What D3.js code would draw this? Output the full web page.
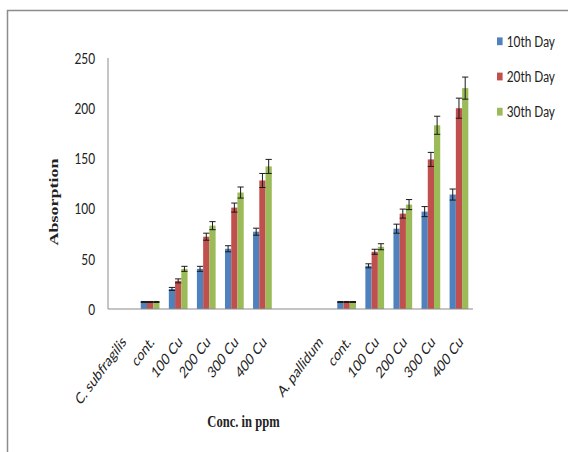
<!DOCTYPE html>
<html>
<head>
<meta charset="utf-8">
<script src="https://cdn.jsdelivr.net/npm/d3@7"></script>
<style>
  html, body { margin: 0; padding: 0; background: #fff; }
  svg { display: block; }
</style>
</head>
<body>
<svg id="chart" width="568" height="452"></svg>
<script>
// Category axis: two species, each followed by a control and four copper doses.
const categories = ["C. subfragilis", "cont.", "100 Cu", "200 Cu", "300 Cu", "400 Cu", "",
                    "A. pallidum", "cont.", "100 Cu", "200 Cu", "300 Cu", "400 Cu"];
const seriesNames = ["10th Day", "20th Day", "30th Day"];

// Mean absorption per category (null where the slot only carries a species label).
const day10 = [null, 7, 20, 40, 60, 77, null, null, 7, 43, 80, 97, 114];
const day20 = [null, 7, 28, 72, 101, 128, null, null, 7, 57, 95, 149, 200];
const day30 = [null, 7, 40, 83, 116, 142, null, null, 7, 62, 104, 183, 220];

// Standard errors for the error bars.
const err10 = [null, 0.5, 1.5, 2.5, 3, 3.5, null, null, 0.5, 2, 4.5, 5, 5.5];
const err20 = [null, 0.5, 2, 3.5, 4.5, 7, null, null, 0.5, 2.5, 4.5, 7, 10];
const err30 = [null, 0.5, 2.5, 4, 5.5, 7, null, null, 0.5, 3, 5, 9, 11];

const yTicks = [0, 50, 100, 150, 200, 250];
const colors = ["#4F81BD", "#C0504D", "#9BBB59"];

const values = [day10, day20, day30];
const errors = [err10, err20, err30];

const svg = d3.select("#chart");
const SX = 0.74;                 // horizontal compression applied to all text
const sans = "Lato, 'Liberation Sans', sans-serif";
const serif = "'Liberation Serif', 'Times New Roman', serif";

// Outer chart frame
svg.append("path")
  .attr("d", "M7.5,452 V10.5 H568")
  .attr("fill", "none")
  .attr("stroke", "#8c8c8c")
  .attr("stroke-width", 1.5);

const plot = { left: 108, right: 473, top: 58, bottom: 309 };

const x = d3.scaleBand()
  .domain(d3.range(categories.length))
  .range([plot.left, plot.right])
  .paddingInner(0).paddingOuter(0);

const y = d3.scaleLinear()
  .domain([0, 250])
  .range([plot.bottom, plot.top]);

// Bars take 3 of every 4.5 bar widths in a band (gap = 150% of a bar).
const barW = x.bandwidth() / 4.5;
const xs = d3.scaleBand()
  .domain(d3.range(seriesNames.length))
  .range([0, barW * 3]);

const rows = [];
values.forEach((vals, s) => {
  vals.forEach((v, i) => {
    if (v != null) rows.push({ s, i, v, e: errors[s][i] });
  });
});

const xBar = d => x(d.i) + (x.bandwidth() - barW * 3) / 2 + xs(d.s);

svg.append("g").selectAll("rect")
  .data(rows)
  .join("rect")
  .attr("x", xBar)
  .attr("width", xs.bandwidth())
  .attr("y", d => y(d.v))
  .attr("height", d => y(0) - y(d.v))
  .attr("fill", d => colors[d.s]);

// Error bars
const eb = svg.append("g")
  .attr("stroke", "#1a1a1a")
  .attr("stroke-width", 1)
  .attr("fill", "none");
eb.selectAll("path")
  .data(rows)
  .join("path")
  .attr("d", d => {
    const cx = xBar(d) + xs.bandwidth() / 2;
    const hw = xs.bandwidth() / 2;
    const y1 = y(d.v + d.e), y2 = y(d.v - d.e);
    return `M${cx},${y1}V${y2}M${cx - hw},${y1}H${cx + hw}M${cx - hw},${y2}H${cx + hw}`;
  });

// Axis lines
svg.append("line")
  .attr("x1", plot.left).attr("x2", plot.left)
  .attr("y1", y(250)).attr("y2", y(0))
  .attr("stroke", "#8c8c8c").attr("stroke-width", 1);
svg.append("line")
  .attr("x1", plot.left).attr("x2", plot.right)
  .attr("y1", y(0)).attr("y2", y(0))
  .attr("stroke", "#8c8c8c").attr("stroke-width", 1.2);

// Y tick labels
svg.append("g").selectAll("text")
  .data(yTicks)
  .join("text")
  .attr("transform", d => `translate(95,${y(d)}) scale(${SX},1)`)
  .attr("text-anchor", "end")
  .attr("dy", "0.36em")
  .attr("font-family", sans)
  .attr("font-size", 16)
  .attr("fill", "#222")
  .text(d => d);

// X category labels, rotated
svg.append("g").selectAll("text")
  .data(categories.map((c, i) => ({ c, i })).filter(d => d.c !== ""))
  .join("text")
  .attr("transform", d => `translate(${x(d.i) + x.bandwidth() / 2 + 2},339) scale(${SX},1) rotate(-45)`)
  .attr("text-anchor", "end")
  .attr("dy", "0.35em")
  .attr("font-family", sans)
  .attr("font-size", 16)
  .attr("fill", "#222")
  .text(d => d.c);

// Axis titles
svg.append("text")
  .attr("transform", `translate(53,202) scale(${SX},1) rotate(-90)`)
  .attr("text-anchor", "middle")
  .attr("dy", "0.35em")
  .attr("font-family", serif)
  .attr("font-weight", "bold")
  .attr("font-size", 18)
  .attr("fill", "#222")
  .text("Absorption");

svg.append("text")
  .attr("transform", `translate(243.5,427) scale(${SX},1)`)
  .attr("text-anchor", "middle")
  .attr("font-family", serif)
  .attr("font-weight", "bold")
  .attr("font-size", 17)
  .attr("fill", "#222")
  .text("Conc. in ppm");

// Legend
const legY = d3.scalePoint().domain(seriesNames).range([41.3, 111.7]);
const leg = svg.append("g").selectAll("g")
  .data(seriesNames)
  .join("g")
  .attr("transform", d => `translate(497,${legY(d)})`);
leg.append("rect")
  .attr("x", 0).attr("y", -3.9)
  .attr("width", 5.6).attr("height", 7.8)
  .attr("fill", (d, i) => colors[i]);
leg.append("text")
  .attr("transform", `translate(9.7,0) scale(${SX},1)`)
  .attr("dy", "0.36em")
  .attr("font-family", sans)
  .attr("font-size", 16)
  .attr("fill", "#222")
  .text(d => d);
</script>
</body>
</html>
